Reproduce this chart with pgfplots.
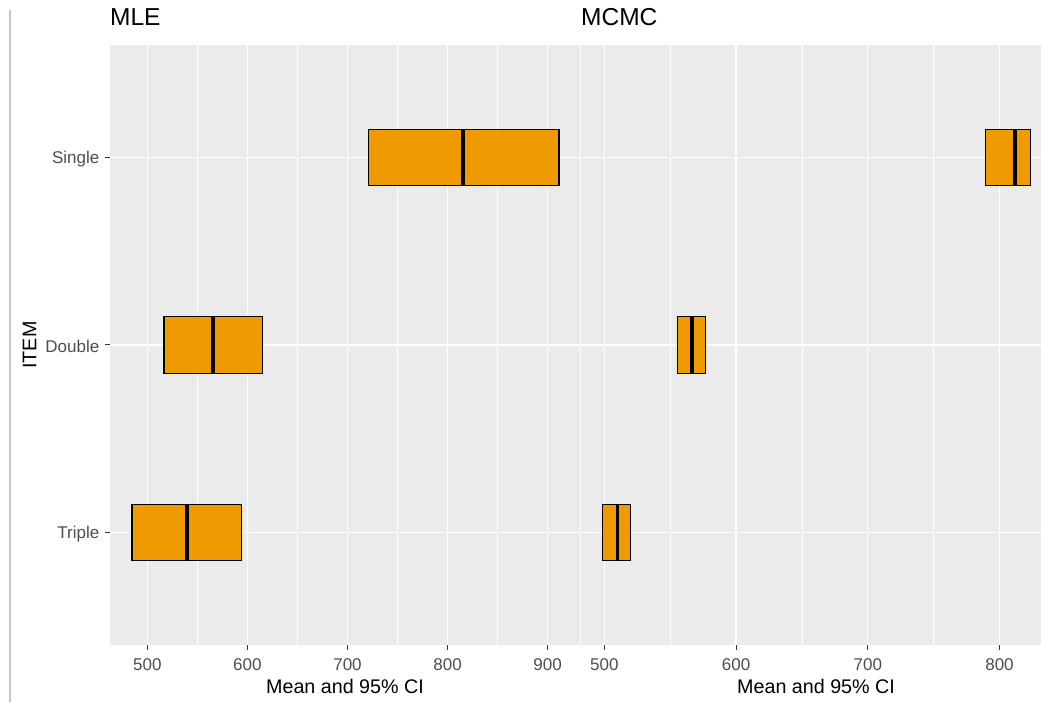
\documentclass[border=0pt]{standalone}
\usepackage{fontspec}
\setmainfont{Liberation Sans}
\usepackage{pgfplots}
\pgfplotsset{compat=1.18}
\definecolor{panelbg}{HTML}{EBEBEB}
\definecolor{barfill}{HTML}{EE9A00}
\definecolor{ticklab}{HTML}{4D4D4D}
\definecolor{tickcol}{HTML}{333333}
\definecolor{edgeline}{HTML}{C8C8C8}
\pgfplotsset{
  gg/.style={
    scale only axis, height=600pt,
    ymin=0.4, ymax=3.6,
    axis background/.style={fill=panelbg},
    axis line style={draw=none},
    grid=both,
    major grid style={white, line width=1.2pt},
    minor grid style={white, line width=0.6pt},
    ytick={1,2,3},
    tick align=outside,
    major tick length=5pt,
    minor tick length=0pt,
    tick style={tickcol, line width=1pt},
    xtick pos=bottom,
    ytick pos=left,
    /pgf/number format/assume math mode=true,
    ticklabel style={font=\fontsize{17}{20}\selectfont, color=ticklab},
    xticklabel style={anchor=north, inner sep=0pt, yshift=-8pt},
    label style={font=\fontsize{19.7}{23}\selectfont},
    title style={font=\fontsize{24.5}{28}\selectfont, at={(0,1)}, anchor=base west, inner sep=0pt, yshift=13pt},
    xlabel={Mean and 95\% CI},
  }
}
\begin{document}
\begin{tikzpicture}
\useasboundingbox (0,0) rectangle (1041pt,702pt);
\draw[edgeline, line width=1.5pt] (10pt,0) -- (10pt,692pt);
% MLE panel
\begin{axis}[gg, at={(110pt,57pt)}, anchor=south west, width=470pt,
  xmin=462.7, xmax=932.3,
  xtick={500,600,700,800,900}, minor xtick={550,650,750,850},
  yticklabels={Triple,Double,Single},
  yticklabel style={anchor=east, inner sep=0pt, xshift=-5.5pt, yshift=-1.5pt},
  title={MLE},
  xlabel style={at={(0.5,0)}, anchor=base, inner sep=0pt, yshift=-48.3pt},
  ylabel={ITEM},
  ylabel style={at={(axis description cs:0,0.5)}, anchor=center, inner sep=0pt, yshift=80.5pt},
]
% Single
\addplot[fill=barfill, draw=black, line width=1.1pt] coordinates {(720.8,2.85) (911.3,2.85) (911.3,3.15) (720.8,3.15)} -- cycle;
\addplot[black, line width=3.7pt] coordinates {(815.7,2.85) (815.7,3.15)};
% Double
\addplot[fill=barfill, draw=black, line width=1.1pt] coordinates {(516.7,1.85) (615.3,1.85) (615.3,2.15) (516.7,2.15)} -- cycle;
\addplot[black, line width=3.7pt] coordinates {(565.9,1.85) (565.9,2.15)};
% Triple
\addplot[fill=barfill, draw=black, line width=1.1pt] coordinates {(484.7,0.85) (593.9,0.85) (593.9,1.15) (484.7,1.15)} -- cycle;
\addplot[black, line width=3.7pt] coordinates {(539.4,0.85) (539.4,1.15)};
\end{axis}
% MCMC panel
\begin{axis}[gg, at={(581pt,57pt)}, anchor=south west, width=460pt,
  xmin=482.3, xmax=831.5,
  xtick={500,600,700,800}, minor xtick={550,650,750},
  yticklabels={}, ytick style={draw=none},
  title={MCMC},
  xlabel style={at={(0.511,0)}, anchor=base, inner sep=0pt, yshift=-48.3pt},
]
% Single
\addplot[fill=barfill, draw=black, line width=1.1pt] coordinates {(789.1,2.85) (823.5,2.85) (823.5,3.15) (789.1,3.15)} -- cycle;
\addplot[black, line width=3.7pt] coordinates {(811.6,2.85) (811.6,3.15)};
% Double
\addplot[fill=barfill, draw=black, line width=1.1pt] coordinates {(555.4,1.85) (577.0,1.85) (577.0,2.15) (555.4,2.15)} -- cycle;
\addplot[black, line width=3.7pt] coordinates {(566.4,1.85) (566.4,2.15)};
% Triple
\addplot[fill=barfill, draw=black, line width=1.1pt] coordinates {(498.8,0.85) (520.0,0.85) (520.0,1.15) (498.8,1.15)} -- cycle;
\addplot[black, line width=3.7pt] coordinates {(509.9,0.85) (509.9,1.15)};
\end{axis}
\end{tikzpicture}
\end{document}
